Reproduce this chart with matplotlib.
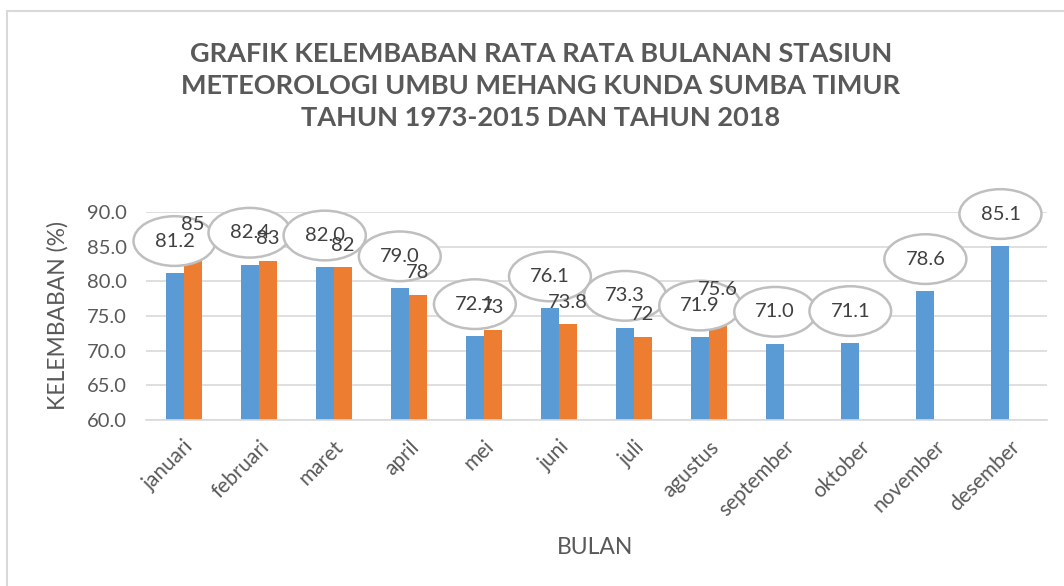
import matplotlib
matplotlib.use("Agg")
import matplotlib.pyplot as plt
from matplotlib.patches import Rectangle
import numpy as np

plt.rcParams['font.family'] = ['Lato', 'DejaVu Sans']

months = ["januari", "februari", "maret", "april", "mei", "juni", "juli",
          "agustus", "september", "oktober", "november", "desember"]
rata_1973_2015 = [81.2, 82.4, 82.0, 79.0, 72.1, 76.1, 73.3, 71.9, 71.0, 71.1, 78.6, 85.1]
tahun_2018 = [85, 83, 82, 78, 73, 73.8, 72, 75.6]
tahun_2018_labels = ["85", "83", "82", "78", "73", "73.8", "72", "75.6"]
yticks = [60.0, 65.0, 70.0, 75.0, 80.0, 85.0, 90.0]

title = ("GRAFIK KELEMBABAN RATA RATA BULANAN STASIUN\n"
         "METEOROLOGI UMBU MEHANG KUNDA SUMBA TIMUR\n"
         "TAHUN 1973-2015 DAN TAHUN 2018")

BLUE = "#5B9BD5"
ORANGE = "#ED7D31"
GRID = "#D9D9D9"
TXT = "#595959"
LBL = "#404040"

fig = plt.figure(figsize=(10.64, 5.86), dpi=100)
W, H = 1064, 586
ax = fig.add_axes([146 / W, 1 - 420 / H, (1047 - 146) / W, (420 - 212) / H])

x = np.arange(len(months))
bw = 0.24
ax.bar(x - bw / 2, rata_1973_2015, bw, color=BLUE, zorder=2)
x2 = np.arange(len(tahun_2018))
ax.bar(x2 + bw / 2, tahun_2018, bw, color=ORANGE, zorder=2)

ax.set_xlim(-0.5, len(months) - 0.5)
ax.set_ylim(60, 90)
ax.set_yticks(yticks)
ax.set_yticklabels([f"{v:.1f}" for v in yticks])
ax.yaxis.grid(True, color=GRID, linewidth=1.2, zorder=0)
ax.set_axisbelow(True)
for s in ["top", "right", "left"]:
    ax.spines[s].set_visible(False)
ax.spines["bottom"].set_color(GRID)
ax.spines["bottom"].set_linewidth(1.2)
ax.tick_params(axis="both", length=0, colors=TXT)
ax.tick_params(axis="y", pad=14, labelsize=14.5)
ax.set_xticks(x)
ax.set_xticklabels(months, rotation=45, ha="right", rotation_mode="anchor")
ax.tick_params(axis="x", pad=12, labelsize=15)

# blue labels in ellipses
for xi, v in zip(x, rata_1973_2015):
    ax.annotate(f"{v:.1f}", xy=(xi - bw / 2, v), xytext=(0, 23),
                textcoords="offset points", ha="center", va="center",
                fontsize=14.5, color=LBL, zorder=5,
                bbox=dict(boxstyle="ellipse,pad=0.45", fc="white",
                          ec="#BFBFBF", lw=1.8),
                annotation_clip=False)

# orange labels
for xi, v, t in zip(x2, tahun_2018, tahun_2018_labels):
    ax.annotate(t, xy=(xi + bw / 2, v), xytext=(0, 16),
                textcoords="offset points", ha="center", va="center",
                fontsize=14.5, color=LBL, zorder=6, annotation_clip=False)

fig.text(58 / W, 1 - 316 / H, "KELEMBABAN (%)", rotation=90, ha="center",
         va="center", fontsize=16.5, color=TXT)
fig.text(595 / W, 1 - 548 / H, "BULAN", ha="center", va="center",
         fontsize=16.5, color=TXT)
fig.text(541 / W, 1 - 86 / H, title, ha="center", va="center",
         fontsize=19.5, fontweight="bold", color=TXT, linespacing=1.38)

fig.patches.append(Rectangle((6.5 / W, -0.1), 1.2, 1 - 11 / H + 0.1,
                             transform=fig.transFigure, fill=False,
                             ec="#D9D9D9", lw=1.5))

fig.savefig("out.png", dpi=100)
